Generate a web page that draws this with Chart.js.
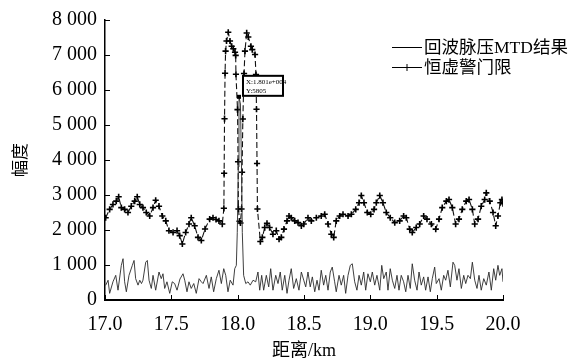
<!DOCTYPE html>
<html>
<head>
<meta charset="utf-8">
<script src="https://cdn.jsdelivr.net/npm/chart.js@4.4.1/dist/chart.umd.min.js"></script>
<style>
  html, body { margin: 0; padding: 0; background: #fff; }
  #c { display: block; }
</style>
</head>
<body>
<canvas id="c" width="577" height="362"></canvas>
<script>
/* ── DATA ──────────────────────────────────────────────── */
const seriesNames = ['回波脉压MTD结果', '恒虚警门限'];
const xTitle = '距离/km';
const yTitle = '幅度';
const xTicks = [17.0, 17.5, 18.0, 18.5, 19.0, 19.5, 20.0];
const yTicks = [0, 1000, 2000, 3000, 4000, 5000, 6000, 7000, 8000];

/* echo after pulse compression + MTD */
const echoKm = [
  17.005, 17.023, 17.035, 17.060, 17.081, 17.098, 17.123, 17.136, 17.148, 17.161,
  17.181, 17.206, 17.219, 17.231, 17.249, 17.262, 17.275, 17.286, 17.307, 17.319,
  17.332, 17.349, 17.362, 17.382, 17.407, 17.424, 17.437, 17.450, 17.467, 17.488,
  17.507, 17.525, 17.543, 17.565, 17.588, 17.601, 17.618, 17.633, 17.650, 17.669,
  17.688, 17.709, 17.726, 17.739, 17.764, 17.784, 17.801, 17.819, 17.839, 17.859,
  17.877, 17.895, 17.910, 17.927, 17.944, 17.965, 17.978, 17.990, 17.997, 18.005,
  18.010, 18.021, 18.029, 18.035, 18.045, 18.061, 18.078, 18.095, 18.116, 18.136,
  18.153, 18.166, 18.181, 18.196, 18.216, 18.234, 18.249, 18.266, 18.287, 18.304,
  18.321, 18.336, 18.355, 18.372, 18.387, 18.404, 18.422, 18.442, 18.462, 18.480,
  18.498, 18.513, 18.530, 18.547, 18.563, 18.581, 18.598, 18.613, 18.630, 18.648,
  18.664, 18.681, 18.698, 18.713, 18.731, 18.743, 18.764, 18.781, 18.799, 18.814,
  18.832, 18.849, 18.864, 18.882, 18.899, 18.915, 18.932, 18.950, 18.965, 18.982,
  19.000, 19.015, 19.033, 19.050, 19.071, 19.086, 19.101, 19.120, 19.133, 19.150,
  19.166, 19.184, 19.201, 19.216, 19.233, 19.251, 19.267, 19.284, 19.301, 19.316,
  19.334, 19.352, 19.367, 19.384, 19.402, 19.417, 19.435, 19.452, 19.467, 19.485,
  19.497, 19.518, 19.535, 19.553, 19.568, 19.585, 19.603, 19.623, 19.636, 19.653,
  19.668, 19.686, 19.704, 19.719, 19.736, 19.754, 19.769, 19.787, 19.804, 19.819,
  19.836, 19.855, 19.874, 19.894, 19.912, 19.930, 19.945, 19.962, 19.975, 19.992,
  20.000
];
const echoAmp = [
  420, 565, 190, 520, 705, 280, 990, 1180, 520, 235,
  705, 990, 1130, 610, 425, 565, 470, 565, 1080, 1130,
  565, 330, 705, 280, 800, 610, 750, 330, 520, 190,
  520, 470, 280, 600, 750, 565, 235, 520, 330, 470,
  190, 610, 520, 470, 705, 330, 660, 235, 610, 850,
  470, 895, 705, 235, 565, 425, 895, 990, 1930, 3800,
  5805, 5600, 3800, 1930, 705, 470, 520, 425, 565, 520,
  800, 280, 705, 280, 705, 375, 895, 280, 705, 470,
  800, 280, 705, 190, 565, 895, 330, 610, 280, 800,
  565, 375, 800, 375, 660, 235, 565, 280, 850, 425,
  705, 280, 800, 940, 520, 235, 705, 425, 705, 190,
  705, 990, 1035, 520, 280, 705, 425, 800, 280, 750,
  520, 800, 425, 705, 280, 990, 610, 800, 280, 895,
  565, 330, 705, 280, 705, 520, 235, 705, 330, 1035,
  565, 280, 800, 425, 660, 280, 660, 235, 610, 940,
  470, 610, 280, 705, 565, 850, 375, 1080, 990, 565,
  895, 330, 705, 470, 705, 610, 1080, 565, 330, 705,
  280, 610, 425, 800, 280, 895, 565, 990, 705, 895,
  520
];

/* CFAR threshold */
const thrKm = [
  17.005, 17.035, 17.060, 17.085, 17.103, 17.123, 17.148, 17.173, 17.198, 17.224,
  17.243, 17.262, 17.286, 17.311, 17.337, 17.362, 17.382, 17.407, 17.432, 17.458,
  17.482, 17.513, 17.543, 17.563, 17.583, 17.608, 17.633, 17.650, 17.676, 17.701,
  17.726, 17.754, 17.789, 17.814, 17.837, 17.859, 17.884, 17.896, 17.898, 17.901,
  17.905, 17.909, 17.916, 17.929, 17.942, 17.955, 17.967, 17.980, 17.985, 17.987,
  17.999, 18.003, 18.006, 18.014, 18.021, 18.029, 18.033, 18.039, 18.048, 18.055,
  18.068, 18.080, 18.100, 18.110, 18.131, 18.138, 18.142, 18.146, 18.149, 18.171,
  18.186, 18.204, 18.221, 18.241, 18.266, 18.291, 18.312, 18.329, 18.349, 18.372,
  18.387, 18.404, 18.430, 18.455, 18.480, 18.498, 18.530, 18.555, 18.593, 18.630,
  18.656, 18.681, 18.706, 18.724, 18.743, 18.769, 18.794, 18.832, 18.857, 18.890,
  18.915, 18.932, 18.952, 18.977, 19.003, 19.028, 19.045, 19.071, 19.095, 19.120,
  19.150, 19.184, 19.221, 19.251, 19.271, 19.297, 19.316, 19.346, 19.372, 19.402,
  19.427, 19.460, 19.493, 19.518, 19.542, 19.573, 19.593, 19.618, 19.643, 19.668,
  19.693, 19.723, 19.744, 19.769, 19.787, 19.812, 19.836, 19.862, 19.874, 19.900,
  19.925, 19.945, 19.962, 19.980, 19.992, 20.000
];
const thrAmp = [
  2350, 2590, 2730, 2825, 2950, 2640, 2590, 2500, 2680, 2825,
  2950, 2730, 2640, 2500, 2400, 2640, 2850, 2680, 2400, 2260,
  1980, 1930, 1980, 1840, 1600, 1930, 2170, 2350, 2120, 1790,
  1700, 2030, 2310, 2350, 2300, 2260, 2170, 2620, 3620, 5180,
  6480, 7110, 7400, 7650, 7400, 7250, 7180, 7080, 6990, 6450,
  5440, 3950, 2600, 2250, 2200, 2600, 3650, 5170, 6470, 7110,
  7630, 7515, 7250, 7155, 7015, 6440, 5450, 3900, 2600, 1670,
  1790, 2070, 2190, 2070, 1880, 1980, 1740, 1790, 2025, 2260,
  2400, 2350, 2260, 2210, 2120, 2170, 2350, 2260, 2350, 2400,
  2450, 2170, 1880, 1790, 2260, 2400, 2450, 2400, 2450, 2590,
  2780, 2985, 2780, 2500, 2450, 2590, 2780, 2985, 2780, 2500,
  2350, 2210, 2260, 2400, 2350, 2025, 1930, 2070, 2170, 2400,
  2310, 2170, 2025, 2310, 2640, 2825, 2870, 2640, 2170, 2310,
  2590, 2825, 2870, 2590, 2170, 2310, 2680, 2870, 3060, 2825,
  2500, 2120, 2400, 2780, 2870, 2750
];

/* ── HELPERS ───────────────────────────────────────────── */
const SERIF = '"Liberation Serif", "Noto Sans CJK SC", serif';
const toPoints = (xs, ys) => xs.map((x, i) => ({ x, y: ys[i] }));
const fmtThousands = v => v === 0 ? '0' : (v / 1000) + ' 000';
const fmtExp = v => v.toExponential(3).replace(/e\+(\d+)/, (m, d) => 'e+' + d.padStart(3, '0'));

/* inward ticks, data tip and legend */
const decorations = {
  id: 'decorations',
  afterDraw(chart) {
    const { ctx, chartArea: a, scales: { x, y } } = chart;
    ctx.save();

    // ticks point into the plot
    ctx.strokeStyle = '#000';
    ctx.lineWidth = 1;
    ctx.beginPath();
    yTicks.forEach(v => {
      const py = Math.round(y.getPixelForValue(v)) + 0.5;
      ctx.moveTo(a.left, py); ctx.lineTo(a.left + 5, py);
    });
    xTicks.forEach(v => {
      const px = Math.round(x.getPixelForValue(v)) + 0.5;
      ctx.moveTo(px, a.bottom); ctx.lineTo(px, a.bottom - 5);
    });
    ctx.stroke();

    // data tip on the echo peak
    const peak = echoAmp.indexOf(Math.max(...echoAmp));
    const px = x.getPixelForValue(echoKm[peak]);
    const py = y.getPixelForValue(echoAmp[peak]);
    ctx.fillStyle = '#000';
    ctx.fillRect(px - 2, py - 2, 4, 4);
    const bx = px + 4, by = py - 21, bw = 40, bh = 20;
    ctx.fillStyle = '#fff';
    ctx.fillRect(bx, by, bw, bh);
    ctx.lineWidth = 2;
    ctx.strokeRect(bx, by, bw, bh);
    ctx.fillStyle = '#000';
    ctx.font = '7px ' + SERIF;
    ctx.textAlign = 'left';
    ctx.textBaseline = 'alphabetic';
    ctx.fillText('X:' + fmtExp(echoKm[peak] * 1000), bx + 3, by + 8);
    ctx.fillText('Y:' + echoAmp[peak], bx + 3, by + 17);

    // legend
    const lx0 = 392, lx1 = 422, rows = [47, 67];
    ctx.lineWidth = 1;
    ctx.font = '17.5px ' + SERIF;
    ctx.textBaseline = 'middle';
    rows.forEach((ry, i) => {
      ctx.beginPath();
      ctx.moveTo(lx0, ry + 0.5); ctx.lineTo(lx1, ry + 0.5);
      if (i === 1) {
        const mx = (lx0 + lx1) / 2;
        ctx.moveTo(mx, ry - 3); ctx.lineTo(mx, ry + 4);
        ctx.moveTo(mx - 3, ry + 0.5); ctx.lineTo(mx + 3, ry + 0.5);
      }
      ctx.stroke();
      ctx.fillText(seriesNames[i], lx1 + 2, ry + 1);
    });

    ctx.restore();
  }
};

/* ── CHART ─────────────────────────────────────────────── */
new Chart(document.getElementById('c'), {
  type: 'line',
  data: {
    datasets: [
      {
        label: seriesNames[0],
        data: toPoints(echoKm, echoAmp),
        borderColor: '#2a2a2a', borderWidth: 0.9,
        pointRadius: 0, tension: 0, fill: false
      },
      {
        label: seriesNames[1],
        data: toPoints(thrKm, thrAmp),
        borderColor: '#111', borderWidth: 1.1, borderDash: [6, 3],
        pointStyle: 'cross', pointRadius: 3.1, pointBorderWidth: 1.6,
        pointBorderColor: '#000', tension: 0, fill: false
      }
    ]
  },
  options: {
    responsive: false, animation: false,
    layout: { padding: { top: 17, right: 74, left: 0, bottom: 0 } },
    plugins: { legend: { display: false }, tooltip: { enabled: false } },
    scales: {
      x: {
        type: 'linear', min: 17, max: 20,
        afterBuildTicks: s => { s.ticks = xTicks.map(v => ({ value: v })); },
        afterFit: s => { s.height = 62; },
        grid: { display: true, drawOnChartArea: false, drawTicks: false },
        border: { display: true, color: '#000', width: 2 },
        ticks: {
          color: '#000', padding: 13, maxRotation: 0, autoSkip: false,
          font: { family: SERIF, size: 20 },
          callback: v => Number(v).toFixed(1)
        },
        title: {
          display: true, text: xTitle, color: '#000',
          font: { family: SERIF, size: 18, lineHeight: 1.2 },
          padding: { top: 0, bottom: 0 }
        }
      },
      y: {
        min: 0, max: 8000,
        afterBuildTicks: s => { s.ticks = yTicks.map(v => ({ value: v })); },
        afterFit: s => { s.width = 105; },
        grid: { display: true, drawOnChartArea: false, drawTicks: false },
        border: { display: true, color: '#000', width: 1.5 },
        ticks: {
          color: '#000', padding: 8, autoSkip: false,
          font: { family: SERIF, size: 20 },
          callback: v => fmtThousands(v)
        },
        title: {
          display: true, text: yTitle, color: '#000',
          font: { family: SERIF, size: 17, lineHeight: 1.2 },
          padding: { top: 11, bottom: 0 }
        }
      }
    }
  },
  plugins: [decorations]
});
</script>
</body>
</html>
